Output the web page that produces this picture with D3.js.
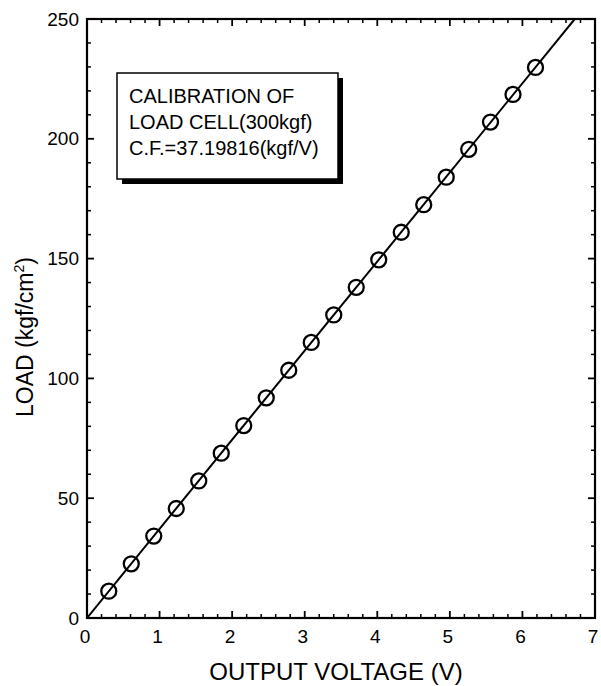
<!DOCTYPE html>
<html>
<head>
<meta charset="utf-8">
<script src="https://cdn.jsdelivr.net/npm/d3@7"></script>
<style>
  html, body { margin: 0; padding: 0; background: #fff; }
  text { font-family: "Liberation Sans", Arial, sans-serif; fill: #000; }
</style>
</head>
<body>
<svg id="chart" width="601" height="686"></svg>
<script>
// ---- data ----
const voltage = [0.30, 0.61, 0.92, 1.23, 1.54, 1.85, 2.16, 2.47, 2.78, 3.09,
                 3.40, 3.71, 4.02, 4.33, 4.64, 4.95, 5.26, 5.56, 5.87, 6.18];
const load    = [11.2, 22.6, 34.2, 45.7, 57.2, 68.8, 80.3, 91.9, 103.4, 115.0,
                 126.5, 138.0, 149.5, 161.0, 172.5, 184.0, 195.6, 207.0, 218.5, 229.8];
const calibFactor = 37.19816;          // kgf/V, fit line through origin
const xTicks = [0, 1, 2, 3, 4, 5, 6, 7];
const yTicks = [0, 50, 100, 150, 200, 250];
const legendLines = ["CALIBRATION OF", "LOAD CELL(300kgf)", "C.F.=37.19816(kgf/V)"];
const xTitle = "OUTPUT VOLTAGE (V)";

// ---- layout ----
const svg = d3.select("#chart");
const L = 87, R = 595, T = 19, B = 618;
const x = d3.scaleLinear().domain([0, 7]).range([L, R]);
const y = d3.scaleLinear().domain([0, 250]).range([B, T]);

const g = svg.append("g");

// minor ticks
const xMinor = d3.range(0, 7.0001, 0.2).filter(v => Math.abs(v - Math.round(v)) > 1e-6);
const yMinor = d3.range(0, 250.001, 10).filter(v => v % 50 !== 0);

function tickLines(vals, isX, len, width) {
  vals.forEach(v => {
    if (isX) {
      g.append("line").attr("x1", x(v)).attr("x2", x(v)).attr("y1", B).attr("y2", B - len)
        .attr("stroke", "#000").attr("stroke-width", width);
      g.append("line").attr("x1", x(v)).attr("x2", x(v)).attr("y1", T).attr("y2", T + len)
        .attr("stroke", "#000").attr("stroke-width", width);
    } else {
      g.append("line").attr("y1", y(v)).attr("y2", y(v)).attr("x1", L).attr("x2", L + len)
        .attr("stroke", "#000").attr("stroke-width", width);
      g.append("line").attr("y1", y(v)).attr("y2", y(v)).attr("x1", R).attr("x2", R - len)
        .attr("stroke", "#000").attr("stroke-width", width);
    }
  });
}
tickLines(xMinor, true, 4, 1.5);
tickLines(yMinor, false, 4, 1.5);
tickLines(xTicks, true, 7, 1.8);
tickLines(yTicks, false, 7, 1.8);

// frame
g.append("rect").attr("x", L).attr("y", T).attr("width", R - L).attr("height", B - T)
  .attr("fill", "none").attr("stroke", "#000").attr("stroke-width", 2.2);

// tick labels
g.selectAll(".xl").data(xTicks).enter().append("text")
  .attr("x", d => x(d) - 2).attr("y", B + 25)
  .attr("text-anchor", "middle").attr("font-size", 19).text(d => d);
g.selectAll(".yl").data(yTicks).enter().append("text")
  .attr("x", L - 8).attr("y", d => y(d)).attr("dy", "0.35em")
  .attr("text-anchor", "end").attr("font-size", 19).text(d => d);

// axis titles
svg.append("text").attr("x", 336).attr("y", 680).attr("text-anchor", "middle")
  .attr("font-size", 24).text(xTitle);
const yt = svg.append("text").attr("transform", "translate(33,337) rotate(-90)")
  .attr("text-anchor", "middle").attr("font-size", 23);
yt.append("tspan").text("LOAD (kgf/cm");
yt.append("tspan").attr("font-size", 14).attr("dy", -9).text("2");
yt.append("tspan").attr("dy", 9).text(")");

// clip
svg.append("clipPath").attr("id", "clip").append("rect")
  .attr("x", L).attr("y", T).attr("width", R - L).attr("height", B - T);

// fit line
const vMax = 250 / calibFactor;
g.append("line").attr("clip-path", "url(#clip)")
  .attr("x1", x(0)).attr("y1", y(0)).attr("x2", x(vMax)).attr("y2", y(vMax * calibFactor))
  .attr("stroke", "#000").attr("stroke-width", 2);

// points
g.selectAll(".pt").data(voltage.map((v, i) => [v, load[i]])).enter().append("circle")
  .attr("cx", d => x(d[0])).attr("cy", d => y(d[1])).attr("r", 7.5)
  .attr("fill", "none").attr("stroke", "#000").attr("stroke-width", 2.3);

// legend box
const bx = 117, by = 73, bw = 221, bh = 106;
svg.append("rect").attr("x", bx + 5).attr("y", by + 5).attr("width", bw).attr("height", bh)
  .attr("fill", "#000");
svg.append("rect").attr("x", bx).attr("y", by).attr("width", bw).attr("height", bh)
  .attr("fill", "#fff").attr("stroke", "#000").attr("stroke-width", 1.5);
legendLines.forEach((t, i) => {
  svg.append("text").attr("x", bx + 12).attr("y", by + 30 + i * 26)
    .attr("font-size", 20).text(t);
});
</script>
</body>
</html>
